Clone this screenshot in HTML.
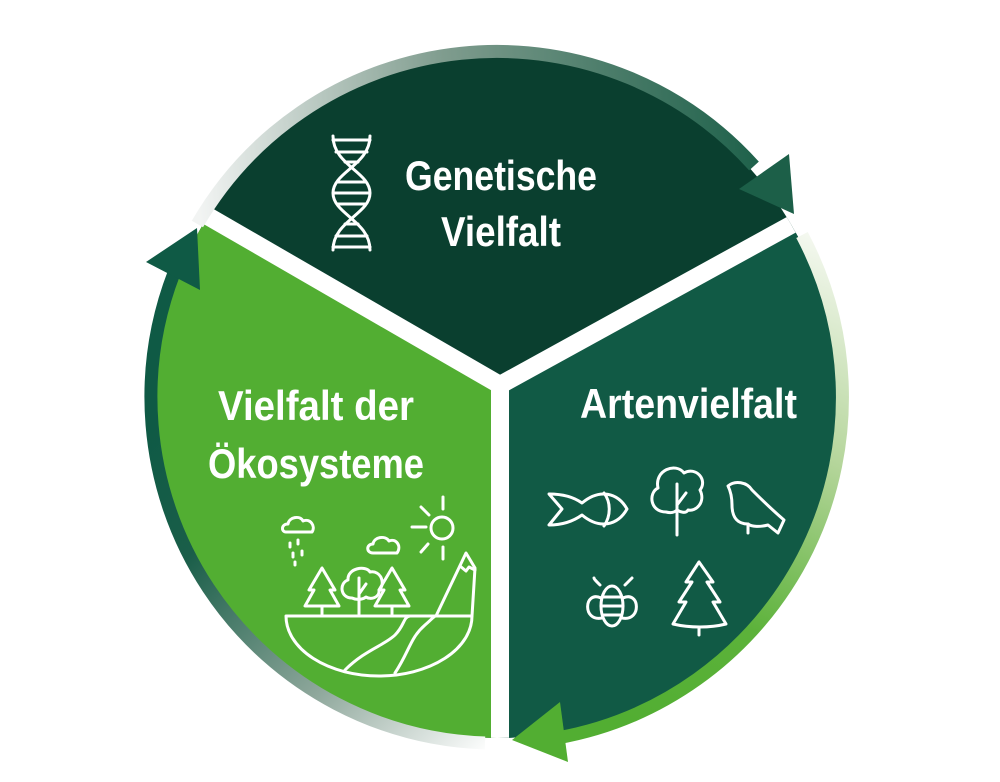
<!DOCTYPE html>
<html><head><meta charset="utf-8"><style>
html,body{margin:0;padding:0;background:#fff;}
svg{display:block;}
text{font-family:"Liberation Sans Narrow","Liberation Sans",sans-serif;font-weight:bold;fill:#fff;font-size:42px;}
</style></head><body>
<svg width="1000" height="782" viewBox="0 0 1000 782" xmlns="http://www.w3.org/2000/svg">
<defs>
<clipPath id="c"><circle cx="497" cy="397" r="341"/></clipPath>
<linearGradient id="g1" gradientUnits="userSpaceOnUse" x1="200" y1="220" x2="770" y2="170">
<stop offset="0" stop-color="#f2f4f3"/><stop offset="0.45" stop-color="#7f9c8e"/><stop offset="1" stop-color="#1b5f48"/></linearGradient>
<linearGradient id="g2" gradientUnits="userSpaceOnUse" x1="815" y1="230" x2="620" y2="720">
<stop offset="0" stop-color="#f6f9f2"/><stop offset="0.4" stop-color="#b4d59a"/><stop offset="0.75" stop-color="#5cb23a"/><stop offset="1" stop-color="#52ae32"/></linearGradient>
<linearGradient id="g3" gradientUnits="userSpaceOnUse" x1="490" y1="750" x2="160" y2="420">
<stop offset="0" stop-color="#ffffff"/><stop offset="0.35" stop-color="#8ea79b"/><stop offset="0.75" stop-color="#1a5e49"/><stop offset="1" stop-color="#0f5a45"/></linearGradient>
</defs>

<g clip-path="url(#c)">
<rect x="0" y="0" width="1000" height="782" fill="#0a3f2f"/>
<polygon points="500,385 500,800 1000,800 1000,110" fill="#115a45"/>
<polygon points="500,385 500,800 0,800 0,96" fill="#52ae32"/>
<g stroke="#fff" stroke-width="18">
<line x1="500" y1="385" x2="500" y2="800"/>
<line x1="500" y1="385" x2="0" y2="96"/>
<line x1="500" y1="385" x2="1000" y2="110"/>
</g>
</g>

<!-- ring arcs -->
<g fill="none" stroke-width="13">
<path d="M197.4,224 A346,346 0 0 1 754,166" stroke="url(#g1)"/>
<path d="M802,235 A346,346 0 0 1 557,738" stroke="url(#g2)"/>
<path d="M485,743 A346,346 0 0 1 174,273" stroke="url(#g3)"/>
</g>
<polygon points="789,154 794,214 739,189" fill="#1c5f48"/>
<polygon points="560,702 568,762 512,740" fill="#52ae32"/>
<polygon points="146,262 200,290 197,228" fill="#0f5a45"/>

<!-- text -->
<text x="405" y="190" textLength="192" lengthAdjust="spacingAndGlyphs">Genetische</text>
<text x="441" y="246" textLength="120" lengthAdjust="spacingAndGlyphs">Vielfalt</text>
<text x="580" y="418" textLength="217" lengthAdjust="spacingAndGlyphs">Artenvielfalt</text>
<text x="218" y="420" textLength="196" lengthAdjust="spacingAndGlyphs">Vielfalt der</text>
<text x="208" y="478" textLength="216" lengthAdjust="spacingAndGlyphs">Ökosysteme</text>

<g fill="none" stroke="#fff" stroke-width="3" stroke-linecap="round" stroke-linejoin="round">
<!-- DNA -->
<path d="M333,136 C333,165 370,172 370,193 C370,214 333,221 333,250"/>
<path d="M370,136 C370,165 333,172 333,193 C333,214 370,221 370,250"/>
<path d="M333,140h37 M336,152h31 M345,162h13 M338,182h27 M334,193h35 M338,204h27 M345,224h13 M336,236h31 M333,247h37"/>

<!-- fish -->
<path d="M549,494 L562,509 L549,525 C565,525 575,520 582,515 C600,530 618,525 627,509 C618,493 600,488 582,503 C575,498 565,494 549,494 Z"/>
<path d="M604,493 C611,502 611,516 604,526"/>
<!-- tree -->
<path d="M677,535 V484 M677,505 L686,493"/>
<path d="M666,512 C650,512 648,493 658,488 C654,470 676,462 684,473 C696,466 708,480 700,490 C706,502 696,512 688,510 C686,514 680,512 677,510 C674,513 670,513 666,512 Z"/>
<!-- bird -->
<path d="M728,486 C735,480 747,482 752,490 C760,498 770,508 784,520 L778,533 L768,525 C760,527 752,527 748,524 C738,524 732,518 732,505 C732,496 730,490 728,486 Z"/>
<path d="M748,524 V533"/>
<!-- bee -->
<path d="M600,585 C596,581 594,579 594,578 M625,585 C629,581 631,579 632,578"/>
<ellipse cx="612" cy="606" rx="11" ry="20"/>
<path d="M602,597h20 M601,606h22 M603,615h18"/>
<path d="M601,598 C584,590 582,622 602,618 M623,598 C640,590 642,622 622,618"/>
<!-- fir -->
<path d="M699,562 L686,582 L692,582 L679,602 L686,602 L673,624 C690,628 710,628 726,624 L713,602 L720,602 L707,582 L713,582 Z M699,627 V635"/>

<!-- ecosystem -->
<path d="M286,616 H472 A93,60 0 0 1 286,616 Z"/>
<path d="M345,670 C365,650 385,645 395,635 C405,625 403,617 410,616"/>
<path d="M395,673 C410,650 410,638 425,625 C433,618 434,616 436,616"/>
<path d="M436,616 L466,553 L475,568 L472,616"/>
<path d="M460,566 L466,571 L469,567 L475,570"/>
<path d="M322,568 L309,590 L314,590 L305,606 L339,606 L330,590 L335,590 Z M322,606 V614"/>
<path d="M392,568 L379,590 L384,590 L375,606 L409,606 L400,590 L405,590 Z M392,606 V614"/>
<path d="M359,614 V578 M359,594 L366,584"/>
<path d="M352,598 C340,598 339,583 348,580 C347,568 366,565 370,572 C381,570 386,584 379,590 C380,598 370,600 366,597 C362,600 356,600 352,598 Z"/>
<path d="M286,532 C281,532 281,524 288,524 C289,517 300,515 303,521 C310,518 316,526 312,532 Z"/>
<path d="M373,553 C366,553 366,544 373,544 C374,537 385,535 389,541 C396,538 402,546 397,553 Z"/>
<path d="M290,543v4 M298,540v4 M293,553v4 M302,551v4 M295,562v3"/>
<circle cx="442" cy="528" r="11"/>
<path d="M443,497v12 M443,547v12 M412,527h14 M421,507l8,8 M428,544l-7,8"/>
</g>
</svg>
</body></html>
